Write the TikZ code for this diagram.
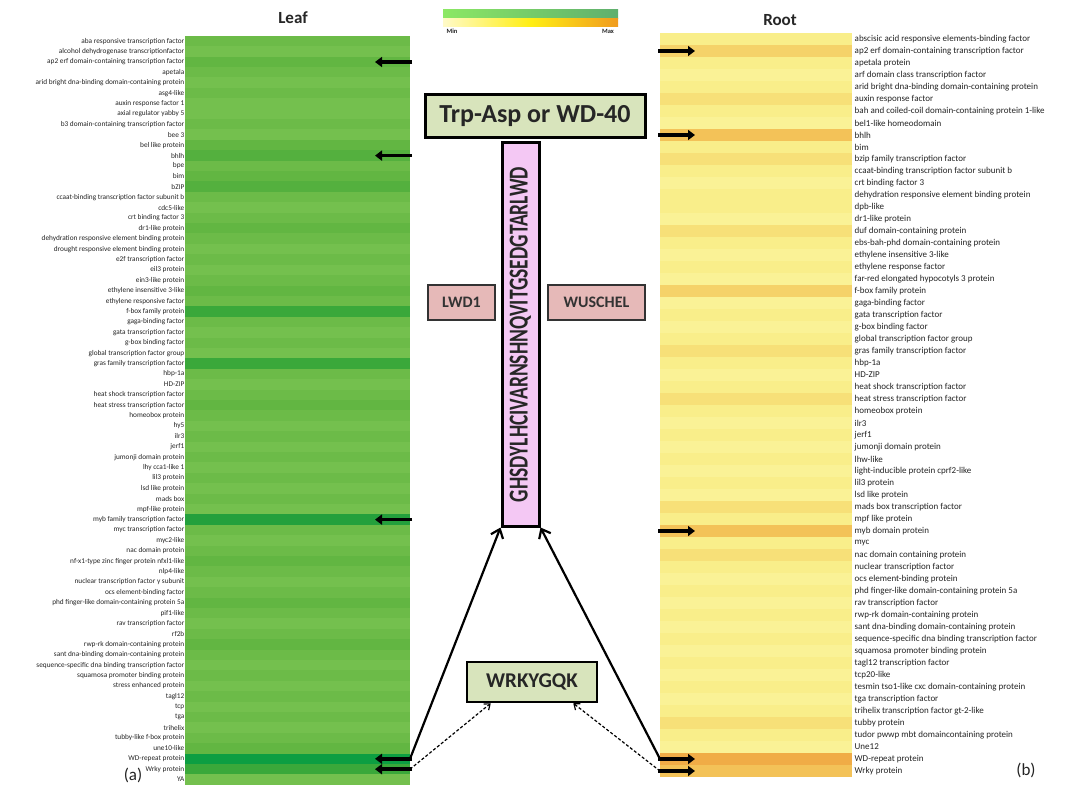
\documentclass[tikz,border=0pt]{standalone}
\usepackage{fontspec}
\setmainfont{Carlito}
\usetikzlibrary{arrows.meta}
\definecolor{lfn}{RGB}{108,187,72}
\definecolor{lfl}{RGB}{116,192,78}
\definecolor{lfs}{RGB}{98,182,66}
\definecolor{lfd}{RGB}{84,176,62}
\definecolor{lfe}{RGB}{58,168,58}
\definecolor{lff}{RGB}{35,160,60}
\definecolor{lfg}{RGB}{12,158,66}
\definecolor{rtn}{RGB}{249,238,138}
\definecolor{rtl}{RGB}{250,242,150}
\definecolor{rto}{RGB}{247,224,120}
\definecolor{rtp}{RGB}{245,210,105}
\definecolor{rtq}{RGB}{243,194,88}
\definecolor{rtw}{RGB}{240,172,70}
\definecolor{labgray}{RGB}{35,35,35}
\definecolor{boxgreen}{RGB}{216,228,188}
\definecolor{boxpink}{RGB}{244,200,244}
\definecolor{boxrose}{RGB}{230,185,184}
\definecolor{cbA}{RGB}{140,232,100}
\definecolor{cbB}{RGB}{95,175,110}
\definecolor{cbC}{RGB}{255,250,200}
\definecolor{cbD}{RGB}{255,238,20}
\definecolor{cbE}{RGB}{240,155,30}
\begin{document}
\begin{tikzpicture}[x=1pt,y=-1pt,
  lrow/.style={rectangle,inner sep=0pt,outer sep=0pt,draw=none,minimum width=225pt,minimum height=10.6pt},
  rrow/.style={rectangle,inner sep=0pt,outer sep=0pt,draw=none,minimum width=192pt,minimum height=12.2pt},
  llab/.style={anchor=east,inner sep=0.5pt,text=labgray,font=\fontsize{7.3}{8}\selectfont},
  rlab/.style={anchor=west,inner sep=0.5pt,text=labgray,font=\fontsize{9}{10}\selectfont},
  marker/.style={line width=3.6pt,-{Triangle[length=7pt,width=10pt]}},
  mainarr/.style={line width=2.2pt,-{Straight Barb[length=8pt,width=13pt]}},
  dasharr/.style={densely dashed,line width=1.2pt,-{Straight Barb[length=5pt,width=8pt]}},
  title/.style={font=\fontsize{17}{17}\bfseries\selectfont,text=black!85},
  bigbox/.style={rectangle,draw=black,fill=boxgreen,inner sep=0pt},
  smallbox/.style={rectangle,draw=black!80,fill=boxrose,line width=1.8pt,inner sep=0pt,minimum height=35pt,font=\fontsize{16}{16}\bfseries\selectfont,text=black!80}
]
\useasboundingbox (0,0) rectangle (1083,786);

% titles
\node[title] (leaf) at (293,18) {Leaf};
\node[title] (root) at (780,20) {Root};

% left heat map
\foreach \i/\lab/\c in {
1/aba responsive transcription factor/n,
2/alcohol dehydrogenase transcriptionfactor/l,
3/ap2 erf domain-containing transcription factor/s,
4/apetala/n,
5/arid bright dna-binding domain-containing protein/l,
6/asg4-like/n,
7/auxin response factor 1/l,
8/axial regulator yabby 5/l,
9/b3 domain-containing transcription factor/n,
10/bee 3/l,
11/bel like protein/s,
12/bhlh/d,
13/bpe/n,
14/bim/s,
15/bZIP/d,
16/ccaat-binding transcription factor subunit b/n,
17/cdc5-like/l,
18/crt binding factor 3/n,
19/dr1-like protein/s,
20/dehydration responsive element binding protein/n,
21/drought responsive element binding protein/l,
22/e2f transcription factor/n,
23/eil3 protein/l,
24/ein3-like protein/n,
25/ethylene insensitive 3-like/s,
26/ethylene responsive factor/n,
27/f-box family protein/e,
28/gaga-binding factor/n,
29/gata transcription factor/l,
30/g-box binding factor/n,
31/global transcription factor group/l,
32/gras family transcription factor/e,
33/hbp-1a/n,
34/HD-ZIP/l,
35/heat shock transcription factor/n,
36/heat stress transcription factor/s,
37/homeobox protein/n,
38/hy5/l,
39/ilr3/n,
40/jerf1/l,
41/jumonji domain protein/n,
42/lhy cca1-like 1/l,
43/lil3 protein/n,
44/lsd like protein/l,
45/mads box/n,
46/mpf-like protein/l,
47/myb family transcription factor/f,
48/myc transcription factor/n,
49/myc2-like/l,
50/nac domain  protein/n,
51/nf-x1-type zinc finger protein nfxl1-like/s,
52/nlp4-like/n,
53/nuclear transcription factor y subunit/l,
54/ocs element-binding factor/n,
55/phd finger-like domain-containing protein 5a/s,
56/pif1-like/n,
57/rav transcription factor/l,
58/rf2b/n,
59/rwp-rk domain-containing protein/s,
60/sant dna-binding domain-containing protein/n,
61/sequence-specific dna binding transcription factor/l,
62/squamosa promoter binding protein/n,
63/stress enhanced protein/l,
64/tagl12/n,
65/tcp/l,
66/tga/n,
67/trihelix/l,
68/tubby-like f-box protein/n,
69/une10-like/s,
70/WD-repeat  protein/g,
71/Wrky  protein/e,
72/YA/l}{
  \node[lrow,fill=lf\c] (L\i) at (297.5,{36+10.4*(\i-0.5)}) {};
  \node[llab] (LL\i) at (L\i.west) {\lab};
}

% right heat map
\foreach \i/\lab/\c in {
1/abscisic acid responsive elements-binding factor/n,
2/ap2 erf domain-containing transcription factor/p,
3/apetala protein/n,
4/arf domain class transcription factor/l,
5/arid bright dna-binding domain-containing protein/n,
6/auxin response factor/o,
7/bah and coiled-coil domain-containing protein 1-like/n,
8/bel1-like homeodomain/l,
9/bhlh/q,
10/bim/n,
11/bzip family transcription factor/o,
12/ccaat-binding transcription factor subunit b/n,
13/crt binding factor 3/l,
14/dehydration responsive element binding protein/n,
15/dpb-like/n,
16/dr1-like protein/l,
17/duf domain-containing protein/o,
18/ebs-bah-phd domain-containing protein/n,
19/ethylene insensitive 3-like/l,
20/ethylene response factor/n,
21/far-red elongated hypocotyls 3 protein/l,
22/f-box family protein/p,
23/gaga-binding factor/l,
24/gata transcription factor/n,
25/g-box binding factor/l,
26/global transcription factor group/n,
27/gras family transcription factor/o,
28/hbp-1a/n,
29/HD-ZIP/l,
30/heat shock transcription factor/n,
31/heat stress transcription factor/o,
32/homeobox  protein/n,
33/ilr3/l,
34/jerf1/n,
35/jumonji domain protein/l,
36/lhw-like/n,
37/light-inducible protein cprf2-like/l,
38/lil3 protein/n,
39/lsd like protein/l,
40/mads box transcription factor/o,
41/mpf like protein/n,
42/myb domain protein/q,
43/myc/n,
44/nac domain containing protein/o,
45/nuclear transcription factor/n,
46/ocs element-binding protein/l,
47/phd finger-like domain-containing protein 5a/n,
48/rav transcription factor/l,
49/rwp-rk domain-containing protein/n,
50/sant dna-binding domain-containing protein/l,
51/sequence-specific dna binding transcription factor/n,
52/squamosa promoter binding protein/l,
53/tagl12 transcription factor/n,
54/tcp20-like/l,
55/tesmin tso1-like cxc domain-containing protein/n,
56/tga transcription factor/l,
57/trihelix transcription factor gt-2-like/n,
58/tubby protein/o,
59/tudor pwwp mbt domaincontaining protein/n,
60/Une12/l,
61/WD-repeat protein/w,
62/Wrky protein/q}{
  \node[rrow,fill=rt\c] (R\i) at (756,{33+12*(\i-0.5)}) {};
  \node[rlab] (RL\i) at ([xshift=2pt]R\i.east) {\lab};
}

% row markers
\foreach \i in {3,12,47,70,71}{
  \draw[marker] ([xshift=2pt]L\i.east) -- ([xshift=-35pt]L\i.east);
}
\foreach \i in {2,9,42,61,62}{
  \draw[marker] ([xshift=-2pt]R\i.west) -- ([xshift=35pt]R\i.west);
}

% colour bar
\shade[left color=cbA,right color=cbB] (443,10) rectangle (618,19);
\shade[left color=cbC,right color=cbE,middle color=cbD] (443,19) rectangle (618,27);
\node[font=\fontsize{6.5}{7}\bfseries\selectfont,text=labgray] (cmin) at (452,31) {Min};
\node[font=\fontsize{6.5}{7}\bfseries\selectfont,text=labgray] (cmax) at (608,31) {Max};

% central boxes
\node[bigbox,line width=3pt,minimum width=220pt,minimum height=43pt,font=\fontsize{26}{26}\bfseries\selectfont,text=black!85] (wd40) at (535,116.5) {Trp-Asp or WD-40};
\node[rectangle,draw=black,fill=boxpink,line width=3pt,minimum width=37pt,minimum height=383pt,inner sep=0pt] (seq) at (520.5,334.5) {};
\node[rotate=90,yscale=1.4,inner sep=0pt,font=\fontsize{19.5}{20}\bfseries\selectfont,text=black!85] (seqtext) at (seq.center) {GHSDYLHCIVARNSHNQVITGSEDGTARLWD};
\node[smallbox,minimum width=67pt] (lwd) at (461.5,302.5) {LWD1};
\node[smallbox,minimum width=97pt] (wus) at (596.5,302.5) {WUSCHEL};
\node[bigbox,line width=2.5pt,minimum width=130pt,minimum height=40pt,font=\fontsize{21}{21}\bfseries\selectfont,text=black!85] (wrky) at (532,682) {WRKYGQK};

% connectors
\draw[mainarr] (L70.east) -- (seq.south west);
\draw[mainarr] (R61.west) -- (seq.south east);
\draw[dasharr] (L71.east) -- ([xshift=25pt]wrky.south west);
\draw[dasharr] (R62.west) -- ([xshift=-25pt]wrky.south east);

% panel letters
\node[font=\fontsize{17}{17}\selectfont,text=labgray] (pa) at (133,775) {(a)};
\node[font=\fontsize{17}{17}\selectfont,text=labgray] (pb) at (1026,770) {(b)};
\end{tikzpicture}
\end{document}
